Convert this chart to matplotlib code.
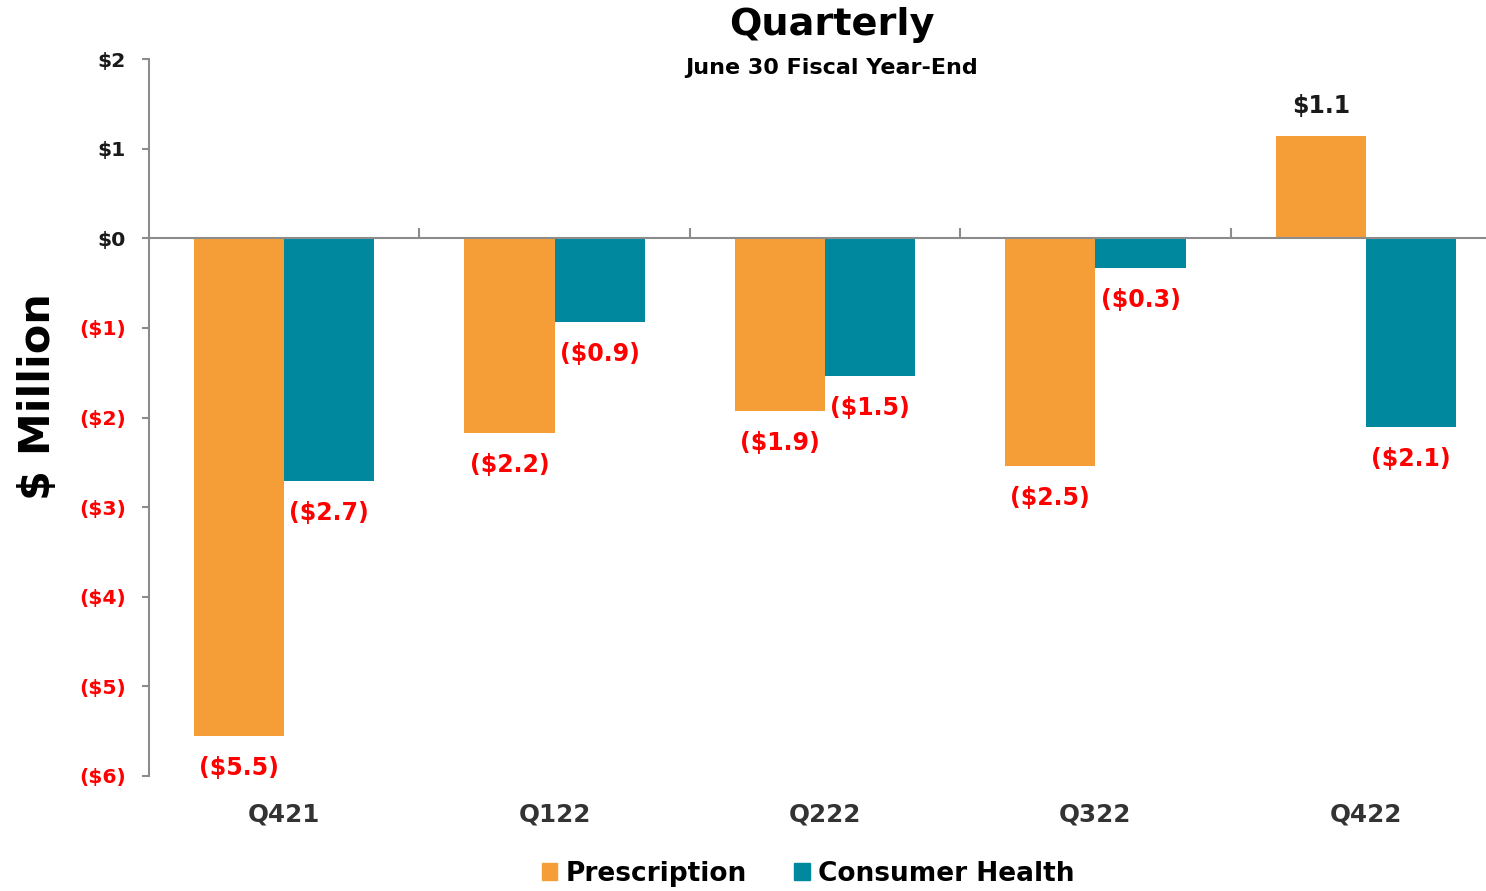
import matplotlib
matplotlib.use("Agg")
import matplotlib.pyplot as plt
import matplotlib.transforms as mtransforms
from matplotlib.patches import Patch
import numpy as np

categories = ["Q421", "Q122", "Q222", "Q322", "Q422"]
prescription = [-5.55, -2.17, -1.93, -2.54, 1.14]
consumer_health = [-2.71, -0.94, -1.54, -0.33, -2.11]
prescription_labels = ["($5.5)", "($2.2)", "($1.9)", "($2.5)", "$1.1"]
consumer_labels = ["($2.7)", "($0.9)", "($1.5)", "($0.3)", "($2.1)"]
yticks = [2, 1, 0, -1, -2, -3, -4, -5, -6]
ytick_labels = ["$2", "$1", "$0", "($1)", "($2)", "($3)", "($4)", "($5)", "($6)"]

ORANGE = "#F59E38"
TEAL = "#00899E"
RED = "#FF0000"
DARK = "#1a1a1a"
AXIS = "#8c8c8c"

plt.rcParams["font.family"] = ["DejaVu Sans"]

fig = plt.figure(figsize=(14.86, 8.91), dpi=100)
ax = fig.add_axes([149 / 1486, 1 - 776 / 891, (1501 - 149) / 1486, (776 - 59) / 891])

x = np.arange(len(categories))
w = 1 / 3
b1 = ax.bar(x - w / 2, prescription, w, color=ORANGE, label="Prescription", zorder=2)
b2 = ax.bar(x + w / 2, consumer_health, w, color=TEAL, label="Consumer Health", zorder=2)

for bars, vals, labs in ((b1, prescription, prescription_labels), (b2, consumer_health, consumer_labels)):
    for rect, v, lab in zip(bars, vals, labs):
        cx = rect.get_x() + rect.get_width() / 2
        off = 22 if v >= 0 else -23
        ax.annotate(lab, (cx, v), xytext=(0, off), textcoords="offset points",
                    ha="center", va="center", fontsize=17, fontweight="bold",
                    color=DARK if v >= 0 else RED)

ax.set_xlim(-0.5, len(categories) - 0.5)
ax.set_ylim(-6, 2)
ax.set_yticks(yticks)
ax.set_yticklabels(ytick_labels)
for t, v in zip(ax.get_yticklabels(), yticks):
    t.set_color(DARK if v >= 0 else RED)
    t.set_fontweight("bold")
    t.set_fontsize(14.7)
ax.tick_params(axis="y", direction="out", length=5, width=1.5, color=AXIS, pad=11.5)

ax.spines["top"].set_visible(False)
ax.spines["right"].set_visible(False)
ax.spines["left"].set_color(AXIS)
ax.spines["left"].set_linewidth(1.5)
ax.spines["bottom"].set_position(("data", 0))
ax.spines["bottom"].set_color(AXIS)
ax.spines["bottom"].set_linewidth(1.5)
ax.spines["bottom"].set_zorder(3)
ax.set_xticks(np.arange(len(categories) - 1) + 0.5)
ax.set_xticklabels([])
ax.tick_params(axis="x", direction="in", length=7, width=1.5, color=AXIS)

trans = mtransforms.blended_transform_factory(ax.transData, ax.transAxes)
for xi, c in zip(x, categories):
    ax.text(xi, -0.053, c, transform=trans, ha="center", va="center",
            fontsize=17.7, fontweight="bold", color="#333333")

fig.text(38 / 1486, 1 - 397 / 891, "$ Million", rotation=90, ha="center", va="center",
         fontsize=31, fontweight="bold", color="black")
fig.text(832 / 1486, 1 - 25 / 891, "Quarterly", ha="center", va="center",
         fontsize=27.5, fontweight="bold", color="black")
fig.text(832 / 1486, 1 - 68 / 891, "June 30 Fiscal Year-End", ha="center", va="center",
         fontsize=16, fontweight="bold", color="black")

handles = [Patch(color=ORANGE, label="Prescription"), Patch(color=TEAL, label="Consumer Health")]
fig.legend(handles=handles, loc="center", bbox_to_anchor=(808 / 1486, 1 - 874 / 891),
           ncol=2, frameon=False, handlelength=0.6, handleheight=0.6,
           handletextpad=0.3, columnspacing=1.8, prop={"weight": "bold", "size": 19})

fig.savefig("out.png", dpi=100)
